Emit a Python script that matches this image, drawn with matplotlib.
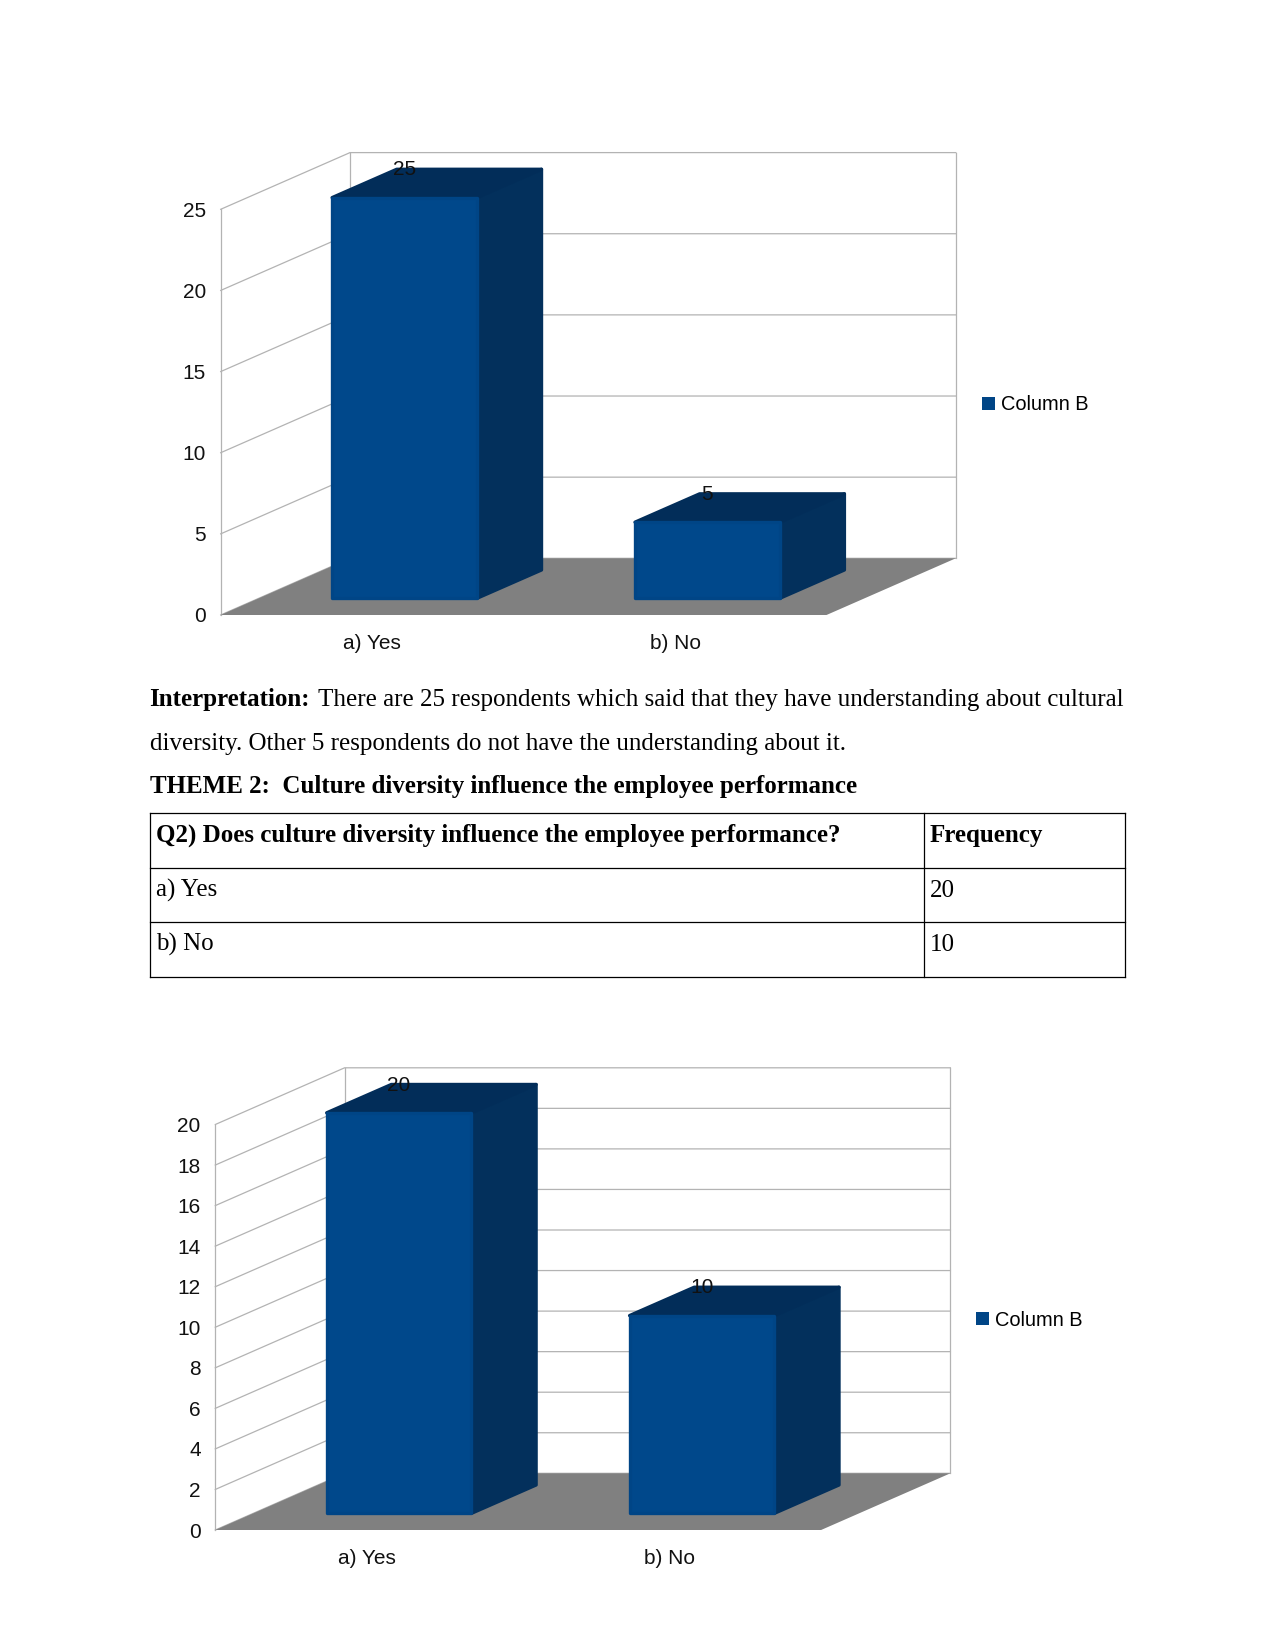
import matplotlib
matplotlib.use('Agg')
import matplotlib.pyplot as plt
from matplotlib.lines import Line2D
from matplotlib.patches import Patch, Polygon

# datos de las dos graficas
categories = ['a) Yes', 'b) No']
series_name = 'Column B'
values_q1 = [25, 5]
values_q2 = [20, 10]
ticks_q1 = [0, 5, 10, 15, 20, 25]
ticks_q2 = [0, 2, 4, 6, 8, 10, 12, 14, 16, 18, 20]

# textos del documento
interp_bold = 'Interpretation:'
interp_line1 = 'There are 25 respondents which said that they have understanding about cultural'
interp_line2 = 'diversity. Other 5 respondents do not have the understanding about it.'
theme_title = 'THEME 2:  Culture diversity influence the employee performance'
table_rows = [
    ['Q2) Does culture diversity influence the employee performance?', 'Frequency'],
    ['a) Yes', '20'],
    ['b) No', '10'],
]

W, H = 1275, 1651
BLUE = '#004586'
BLUE_FRONT = '#00488b'
DARK = '#03305c'
DARK_TOP = '#022d59'
GRID = '#b3b3b3'
FLOOR = '#808080'

plt.rcParams['font.family'] = ['Liberation Sans', 'DejaVu Sans']
fig = plt.figure(figsize=(W / 150, H / 150), dpi=150, facecolor='white')


def draw_chart(left, y_zero, y_top, values, ticks, legend_y):
    width = 605.8
    depth_x, depth_y = 129.3, 56.7
    ax = fig.add_axes([left / W, 1 - y_zero / H, width / W, (y_zero - y_top) / H])
    ax.set_xlim(-0.5, 1.5)
    ax.set_ylim(0, ticks[-1])
    ax.patch.set_alpha(0)
    for s in ax.spines.values():
        s.set_visible(False)

    # desplazamiento de profundidad en unidades de los ejes
    unit_x = width / 2
    unit_y = (y_zero - y_top) / ticks[-1]
    dx = depth_x / unit_x
    dy = depth_y / unit_y

    def proj(x, y, d):
        return (x + dx * d, y + dy * d)

    x0, x1 = -0.5, 1.5
    top = ticks[-1]
    # suelo
    floor = [proj(x0, 0, 0), proj(x1, 0, 0), proj(x1, 0, 1), proj(x0, 0, 1)]
    ax.add_patch(Polygon(floor, closed=True, fc=FLOOR, ec='none', clip_on=False, zorder=2))
    # paredes y lineas de rejilla
    for t in ticks:
        a, b, c = proj(x0, t, 0), proj(x0, t, 1), proj(x1, t, 1)
        ax.plot([a[0], b[0], c[0]], [a[1], b[1], c[1]], color=GRID, lw=0.6, clip_on=False, zorder=1)
    for p, q in [(proj(x0, 0, 0), proj(x0, top, 0)), (proj(x0, 0, 1), proj(x0, top, 1)),
                 (proj(x1, 0, 1), proj(x1, top, 1))]:
        ax.plot([p[0], q[0]], [p[1], q[1]], color=GRID, lw=0.6, clip_on=False, zorder=1)

    # barras, con borde redondeado hacia dentro
    half = 0.239
    inset = 2.5 / unit_y
    for i, v in enumerate(values):
        a, b = i - half, i + half
        lo, hi = inset, v - inset
        side = [proj(b, lo, .25), proj(b, lo, .75), proj(b, hi, .75), proj(b, hi, .25)]
        roof = [proj(a, hi, .25), proj(b, hi, .25), proj(b, hi, .75), proj(a, hi, .75)]
        front = [proj(a, lo, .25), proj(b, lo, .25), proj(b, hi, .25), proj(a, hi, .25)]
        ax.add_patch(Polygon(side, closed=True, fc=DARK, ec=DARK, lw=1.6, joinstyle='round', clip_on=False, zorder=3))
        ax.add_patch(Polygon(roof, closed=True, fc=DARK_TOP, ec=DARK_TOP, lw=1.6, joinstyle='round', clip_on=False, zorder=3))
        ax.add_patch(Polygon(front, closed=True, fc=BLUE_FRONT, ec=BLUE, lw=1.6, joinstyle='round', clip_on=False, zorder=4))
        lx, ly = proj(i, v, .75)
        ax.annotate(str(v), (lx - dx * .5, ly), xytext=(0, -1.5), textcoords='offset points',
                    ha='center', va='center', fontsize=10, color='#111111', zorder=5, annotation_clip=False)

    ax.set_xticks(range(len(categories)))
    ax.set_xticklabels(categories, fontsize=10, color='#111111')
    ax.set_yticks(ticks)
    ax.set_yticklabels([str(t) for t in ticks], fontsize=10, color='#111111')
    ax.tick_params(axis='x', length=0, pad=9)
    ax.tick_params(axis='y', length=0, pad=7)

    fig.legend(handles=[Patch(fc=BLUE, ec='none', label=series_name)],
               loc='center left', bbox_to_anchor=((left + 761) / W, 1 - legend_y / H),
               frameon=False, fontsize=9.6, handlelength=0.65, handleheight=0.65,
               handletextpad=0.3, borderpad=0, borderaxespad=0)


draw_chart(220.7, 615, 209.3, values_q1, ticks_q1, 405)
draw_chart(215.3, 1530, 1124.5, values_q2, ticks_q2, 1320)

# texto del documento en coordenadas de pixel
serif = ['Liberation Serif', 'DejaVu Serif']


def put_text(x, y, s, bold=False):
    return fig.text(x / W, 1 - y / H, s, family=serif, fontsize=12, va='baseline', ha='left',
                    fontweight='bold' if bold else 'normal', color='black')


renderer = fig.canvas.get_renderer()
t = put_text(149, 706, interp_bold, bold=True)
put_text(t.get_window_extent(renderer).x1 + 8.3, 706, interp_line1)
put_text(150, 750, interp_line2)
put_text(150, 793, theme_title, bold=True)

# tabla
tx0, tx1, tx2 = 149.8, 923.7, 1124.8
row_y = [813, 868.3, 922.3, 977.3]
baselines = [842, 897, 951]
for y in row_y:
    fig.add_artist(Line2D([tx0 / W, tx2 / W], [1 - y / H, 1 - y / H], color='black', lw=0.6))
for x in [tx0, tx1, tx2]:
    fig.add_artist(Line2D([x / W, x / W], [1 - row_y[0] / H, 1 - row_y[-1] / H], color='black', lw=0.6))
for r, row in enumerate(table_rows):
    put_text(156, baselines[r], row[0], bold=r == 0)
    put_text(930, baselines[r], row[1], bold=r == 0)

fig.savefig('out.png', dpi=150, facecolor='white')
